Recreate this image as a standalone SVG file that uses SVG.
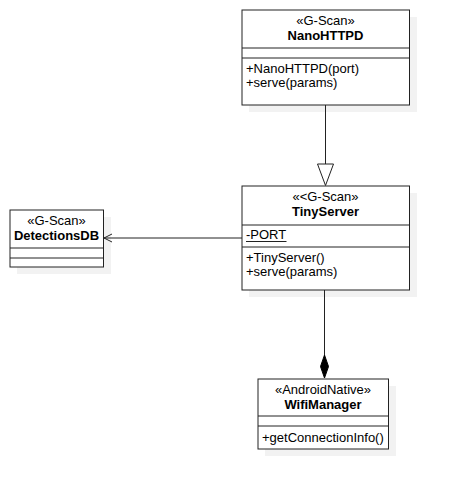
<svg xmlns="http://www.w3.org/2000/svg" width="450" height="488" viewBox="0 0 450 488">
<style>
text{font-family:"Liberation Sans",Arial,sans-serif;font-size:13px;fill:#000}
.c{text-anchor:middle}
.b{font-weight:bold}
.box{fill:#fff;stroke:#222;stroke-width:1}
.sh{fill:#f2f2f2}
.ln{stroke:#222;stroke-width:1;fill:none}
</style>
<rect width="450" height="488" fill="#fff"/>
<g id="NanoHTTPD">
<rect class="sh" x="249" y="17" width="168" height="95"/>
<rect class="box" x="242" y="10" width="167.5" height="95"/>
<line class="ln" x1="242" y1="48" x2="409.5" y2="48"/>
<line class="ln" x1="242" y1="58" x2="409.5" y2="58"/>
<text class="c" x="325.5" y="24.5">«G-Scan»</text>
<text class="c b" x="325.5" y="39.5">NanoHTTPD</text>
<text x="246" y="72.5">+NanoHTTPD(port)</text>
<text x="246" y="86.5">+serve(params)</text>
</g>
<g id="TinyServer">
<rect class="sh" x="249" y="193" width="168" height="104"/>
<rect class="box" x="242" y="186" width="167.5" height="104"/>
<line class="ln" x1="242" y1="225" x2="409.5" y2="225"/>
<line class="ln" x1="242" y1="247" x2="409.5" y2="247"/>
<text class="c" x="325.5" y="200.5">«&lt;G-Scan»</text>
<text class="c b" x="325.5" y="215.5">TinyServer</text>
<text x="246" y="238.5">-PORT</text>
<line class="ln" x1="246" y1="241.5" x2="286.5" y2="241.5"/>
<text x="246" y="261.5">+TinyServer()</text>
<text x="246" y="275.5">+serve(params)</text>
</g>
<g id="DetectionsDB">
<rect class="sh" x="17" y="217" width="94" height="57"/>
<rect class="box" x="10" y="210" width="93.5" height="57"/>
<line class="ln" x1="10" y1="248" x2="103.5" y2="248"/>
<line class="ln" x1="10" y1="258" x2="103.5" y2="258"/>
<text class="c" x="56.5" y="224.5">«G-Scan»</text>
<text class="c b" x="56.5" y="239.5">DetectionsDB</text>
</g>
<g id="WifiManager">
<rect class="sh" x="265" y="386" width="131" height="70"/>
<rect class="box" x="258" y="379" width="130.5" height="70"/>
<line class="ln" x1="258" y1="416" x2="388.5" y2="416"/>
<line class="ln" x1="258" y1="426" x2="388.5" y2="426"/>
<text class="c" x="323" y="393.5">«AndroidNative»</text>
<text class="c b" x="323" y="408.5">WifiManager</text>
<text x="262" y="441.5">+getConnectionInfo()</text>
</g>
<g id="connectors">
<line class="ln" x1="325.5" y1="105" x2="325.5" y2="164"/>
<polygon points="317.5,164 333.5,164 325.5,185.5" fill="#fff" stroke="#222" stroke-width="1"/>
<line class="ln" x1="242" y1="238" x2="104" y2="238"/>
<polyline class="ln" points="112,234 104,238 112,242"/>
<line class="ln" x1="324.5" y1="290" x2="324.5" y2="355"/>
<polygon points="324.5,355 328.5,366.5 324.5,378 320.5,366.5" fill="#000" stroke="#000" stroke-width="1"/>
</g>
</svg>
